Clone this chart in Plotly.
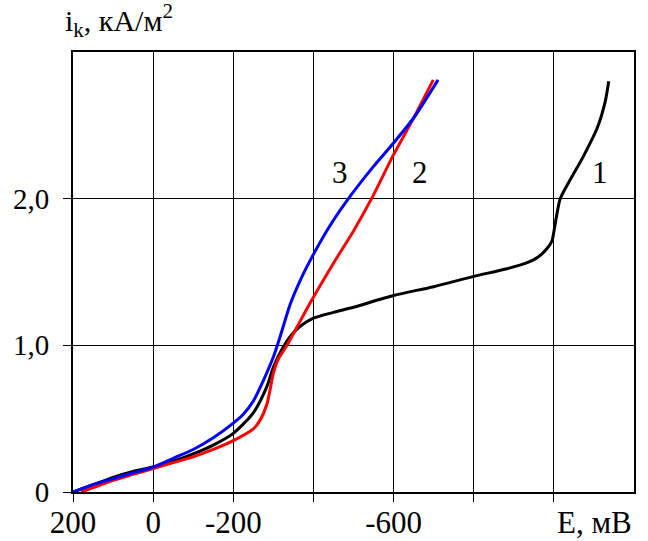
import plotly.graph_objects as go

# Curve 1 (black)
e1 = [200, 150, 100, 50, 0, -50, -100, -150, -200, -250, -284, -300, -325, -345, -367,
      -400, -450, -500, -600, -700, -800, -880, -930, -960, -983, -995, -1001, -1008, -1016,
      -1074, -1108, -1128, -1137]
i1 = [0, 0.05, 0.10, 0.14, 0.17, 0.21, 0.26, 0.32, 0.40, 0.54, 0.72, 0.85, 0.99, 1.07, 1.13,
      1.185, 1.225, 1.26, 1.34, 1.40, 1.47, 1.52, 1.56, 1.60, 1.66, 1.71, 1.79, 1.90, 2.00,
      2.29, 2.48, 2.66, 2.80]
# Curve 2 (red)
e2 = [180, 150, 100, 50, 0, -50, -100, -150, -200, -250, -267, -284, -292, -300, -313, -334,
      -360, -392, -450, -500, -545, -600, -650, -699]
i2 = [0, 0.03, 0.08, 0.12, 0.16, 0.20, 0.24, 0.29, 0.35, 0.43, 0.49, 0.60, 0.70, 0.81, 0.91, 1.00,
      1.13, 1.29, 1.56, 1.78, 2.00, 2.30, 2.55, 2.81]
# Curve 3 (blue)
e3 = [200, 150, 100, 50, 0, -50, -100, -150, -200, -225, -250, -275, -300, -317, -342, -370, -400,
      -440, -490, -550, -600, -650, -711]
i3 = [0, 0.05, 0.09, 0.13, 0.17, 0.23, 0.29, 0.37, 0.47, 0.53, 0.62, 0.76, 0.92, 1.06, 1.28, 1.46, 1.62,
      1.81, 2.01, 2.22, 2.38, 2.55, 2.81]

x_ticks = [200, 0, -200, -400, -600, -800, -1000]
x_text = ["200", "0", "-200", "", "-600", "", ""]
y_ticks = [0, 1, 2]
y_text = ["0", "1,0", "2,0"]

labels = ["1", "2", "3"]
label_e = [-1116, -667, -467]
label_i = [2.18, 2.18, 2.18]

FONT = "Liberation Serif"

fig = go.Figure()
for e, i, c in [(e1, i1, "black"), (e2, i2, "#ff0000"), (e3, i3, "#0000ff")]:
    fig.add_trace(go.Scatter(x=e, y=i, mode="lines",
                             line=dict(color=c, width=3, shape="spline", smoothing=0.7),
                             showlegend=False, hoverinfo="skip"))

for t, xe, yi in zip(labels, label_e, label_i):
    fig.add_annotation(x=xe, y=yi, text=t, showarrow=False,
                       font=dict(family=FONT, size=31, color="black"))

fig.add_annotation(xref="paper", yref="paper", x=1.0, y=0, yshift=-30,
                   xanchor="right", yanchor="middle", text="E, мВ", showarrow=False,
                   font=dict(family=FONT, size=31, color="black"))
fig.add_annotation(xref="paper", yref="paper", x=0.0, y=1.0, xshift=-10, yshift=32,
                   xanchor="left", yanchor="middle",
                   text="i<sub>k</sub>, кА/м<sup>2</sup>", showarrow=False,
                   font=dict(family=FONT, size=30, color="black"))

fig.update_xaxes(range=[200, -1200], tickvals=x_ticks, ticktext=x_text,
                 showgrid=True, gridcolor="black", gridwidth=1,
                 showline=True, linecolor="black", linewidth=2, mirror=True,
                 ticks="outside", ticklen=8, tickcolor="black", tickwidth=1,
                 ticklabelstandoff=-6, zeroline=False,
                 tickfont=dict(family=FONT, size=31, color="black"))
fig.update_yaxes(range=[0, 3], tickvals=y_ticks, ticktext=y_text,
                 showgrid=True, gridcolor="black", gridwidth=1,
                 showline=True, linecolor="black", linewidth=2, mirror=True,
                 ticks="outside", ticklen=8, tickcolor="black", tickwidth=1,
                 ticklabelstandoff=8, zeroline=False,
                 tickfont=dict(family=FONT, size=29, color="black"))

fig.update_layout(width=648, height=541,
                  margin=dict(l=73, r=14, t=52, b=49, autoexpand=False),
                  paper_bgcolor="white", plot_bgcolor="white")

fig.write_html("out.html", config={"displayModeBar": False},
               post_script="document.body.style.margin='0px';")
